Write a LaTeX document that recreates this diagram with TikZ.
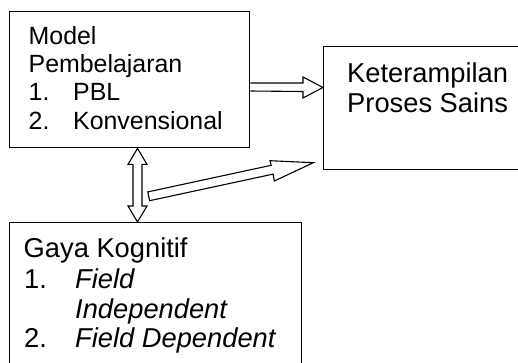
\documentclass[tikz,border=0pt]{standalone}
\usepackage{fontspec}
\setmainfont{Liberation Sans}
\usetikzlibrary{calc}
\begin{document}
\begin{tikzpicture}[x=1pt,y=-1pt,
  box/.style={draw, line width=1.4pt, inner sep=0pt, anchor=north west},
  txta/.style={anchor=base west, inner sep=0pt, font=\fontsize{24.9}{28}\selectfont},
  txtb/.style={anchor=base west, inner sep=0pt, font=\fontsize{27.3}{30}\selectfont},
  blk/.style={draw, line width=1.1pt, fill=white, line join=miter}]
\useasboundingbox (0,0) rectangle (518,362);
% boxes
\node[box, minimum width=240pt, minimum height=136pt] (m) at (9,11) {};
\node[box, minimum width=230pt, minimum height=123pt] (k) at (323,46) {};
\node[box, minimum width=292pt, minimum height=160pt] (g) at (9,222) {};
% texts box 1
\node[txta] (m1) at (28.5,44) {Model};
\node[txta] (m2) at (28.5,72.7) {Pembelajaran};
\node[txta] (m3n) at (28.5,100.7) {1.};
\node[txta] (m3) at (73,100.7) {PBL};
\node[txta] (m4n) at (28.5,129) {2.};
\node[txta] (m4) at (73,129) {Konvensional};
% texts box 2
\node[txtb] (k1) at (347,82) {Keterampilan};
\node[txtb] (k2) at (347,112) {Proses Sains};
% texts box 3
\node[txtb] (g1) at (23.5,257) {Gaya Kognitif};
\node[txtb] (g2n) at (24,288) {1.};
\node[txtb] (g2) at (75,288) {\itshape Field};
\node[txtb] (g3) at (75,318) {\itshape Independent};
\node[txtb] (g4n) at (24,347) {2.};
\node[txtb] (g4) at (75,347) {\itshape Field Dependent};
% horizontal block arrow m -> k
\coordinate (h0) at (m.east |- 0,87);
\coordinate (h1) at (k.west |- 0,87.5);
\draw[blk] (h0) ++(0,-4) -- ($(h1)+(-20,-4.5)$) -- ($(h1)+(-20,-10.5)$) -- (h1)
  -- ($(h1)+(-20,10.5)$) -- ($(h1)+(-20,4)$) -- ($(h0)+(0,4)$);
% vertical double arrow m <-> g
\coordinate (v0) at (m.south -| 137.5,0);
\coordinate (v1) at (g.north -| 137.5,0);
\draw[blk] (v0) -- ($(v0)+(9.5,16)$) -- ($(v0)+(4.5,16)$) -- ($(v1)+(4.5,-16)$)
  -- ($(v1)+(9.5,-16)$) -- (v1) -- ($(v1)+(-9.5,-16)$) -- ($(v1)+(-4.5,-16)$)
  -- ($(v0)+(-4.5,16)$) -- ($(v0)+(-9.5,16)$) -- cycle;
% diagonal block arrow
\coordinate (d0) at (148.7,196.3);
\coordinate (d1) at (313.3,162.7);
\draw[blk] (147.8,191.9) -- (271.2,165.3) -- (270,160.7) -- (d1) -- (274.3,181)
  -- (273.1,174.1) -- (149.6,200.7) -- cycle;
\end{tikzpicture}
\end{document}
